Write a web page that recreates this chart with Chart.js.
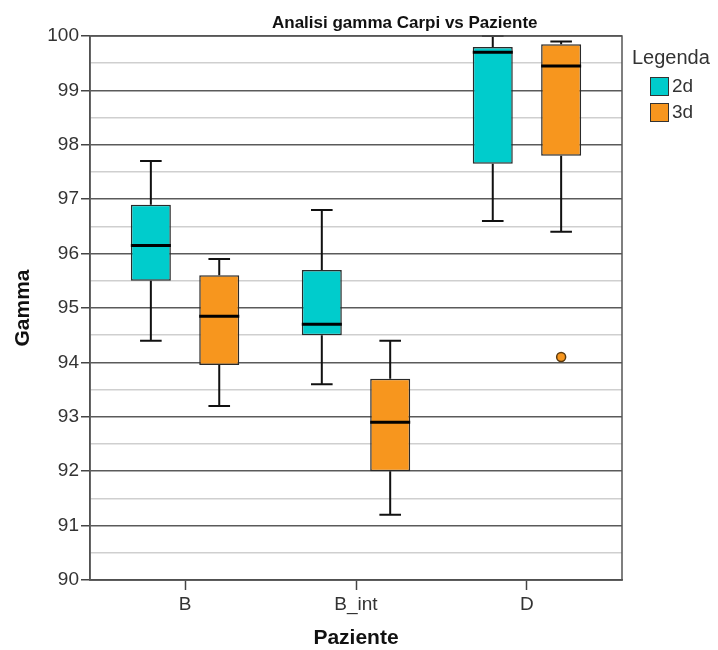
<!DOCTYPE html>
<html lang="it">
  <head>
    <meta charset="UTF-8" />
    <title>Analisi gamma Carpi vs Paziente</title>
    <style>
      body { margin: 0; background: #fff; }
      .container {
        position: relative;
        width: 718px;
        height: 650px;
        font-family: "Liberation Sans", Arial, sans-serif;
        color: #333;
      }
      #title {
        position: absolute;
        left: 272px;
        top: 13px;
        font-size: 17px;
        font-weight: bold;
        color: #111;
        white-space: nowrap;
      }
      #legend {
        position: absolute;
        left: 632px;
        top: 46px;
      }
      #legend .head { font-size: 20px; margin-bottom: 4px; }
      #legend .item {
        display: flex;
        align-items: center;
        margin-left: 18px;
        height: 26px;
        font-size: 19px;
      }
      #legend .box {
        display: inline-block;
        width: 17px;
        height: 17px;
        border: 1px solid #333;
        margin-right: 3px;
      }
    </style>
    <script defer src="https://cdn.jsdelivr.net/npm/chart.js"></script>
    <script>
      // data
      const categories = ["B", "B_int", "D"];
      const seriesNames = ["2d", "3d"];
      const seriesColors = ["rgb(0, 204, 204)", "rgb(247, 150, 30)"];

      const min2d = [94.4, 93.6, 96.6];
      const q1_2d = [95.5, 94.5, 97.65];
      const med2d = [96.15, 94.7, 99.7];
      const q3_2d = [96.9, 95.7, 99.8];
      const max2d = [97.7, 96.8, 100.0];
      const out2d = [[], [], []];

      const min3d = [93.2, 91.2, 96.4];
      const q1_3d = [93.95, 92.0, 97.8];
      const med3d = [94.85, 92.9, 99.45];
      const q3_3d = [95.6, 93.7, 99.85];
      const max3d = [95.9, 94.4, 99.9];
      const out3d = [[], [], [94.1]];

      const yTicks = [90, 91, 92, 93, 94, 95, 96, 97, 98, 99, 100];

      window.addEventListener("DOMContentLoaded", () => {
        const stats = [
          { min: min2d, q1: q1_2d, med: med2d, q3: q3_2d, max: max2d, out: out2d },
          { min: min3d, q1: q1_3d, med: med3d, q3: q3_3d, max: max3d, out: out3d },
        ];

        // html legend
        const legend = document.getElementById("legend");
        seriesNames.forEach((name, i) => {
          const item = document.createElement("div");
          item.className = "item";
          const box = document.createElement("span");
          box.className = "box";
          box.style.background = seriesColors[i];
          item.appendChild(box);
          item.appendChild(document.createTextNode(name));
          legend.appendChild(item);
        });

        const datasets = seriesNames.map((name, s) => ({
          label: name,
          data: categories.map((c, i) => ({ x: i, y: [stats[s].q1[i], stats[s].q3[i]] })),
          backgroundColor: seriesColors[s],
          borderColor: "#2a2a2a",
          borderWidth: 1.5,
          borderSkipped: false,
          categoryPercentage: 0.8,
          barPercentage: 0.585,
        }));

        // whiskers, medians, outliers on top of the boxes
        const boxplotPlugin = {
          id: "boxplotExtras",
          afterDatasetsDraw(chart) {
            const c = chart.ctx;
            const y = chart.scales.y;
            chart.data.datasets.forEach((ds, s) => {
              const meta = chart.getDatasetMeta(s);
              meta.data.forEach((bar, i) => {
                const st = stats[s];
                const x = bar.x;
                const half = bar.width / 2;
                const cap = bar.width * 0.27;
                c.save();
                c.strokeStyle = "#111";
                c.lineWidth = 2;
                c.beginPath();
                c.moveTo(x, y.getPixelForValue(st.max[i]));
                c.lineTo(x, y.getPixelForValue(st.q3[i]));
                c.moveTo(x, y.getPixelForValue(st.q1[i]));
                c.lineTo(x, y.getPixelForValue(st.min[i]));
                c.moveTo(x - cap, y.getPixelForValue(st.max[i]));
                c.lineTo(x + cap, y.getPixelForValue(st.max[i]));
                c.moveTo(x - cap, y.getPixelForValue(st.min[i]));
                c.lineTo(x + cap, y.getPixelForValue(st.min[i]));
                c.stroke();
                c.lineWidth = 3;
                c.strokeStyle = "#000";
                c.beginPath();
                c.moveTo(x - half, y.getPixelForValue(st.med[i]));
                c.lineTo(x + half, y.getPixelForValue(st.med[i]));
                c.stroke();
                st.out[i].forEach((v) => {
                  c.beginPath();
                  c.arc(x, y.getPixelForValue(v), 4.5, 0, Math.PI * 2);
                  c.fillStyle = seriesColors[s];
                  c.fill();
                  c.lineWidth = 1.5;
                  c.strokeStyle = "#5a3a10";
                  c.stroke();
                });
                c.restore();
              });
            });
            // frame top / right
            const a = chart.chartArea;
            c.save();
            c.strokeStyle = "#555";
            c.lineWidth = 1.5;
            c.strokeRect(a.left, a.top, a.right - a.left, a.bottom - a.top);
            c.restore();
          },
        };

        Chart.defaults.font.family = "'Liberation Sans', Arial, sans-serif";
        Chart.defaults.color = "#333";

        new Chart(document.getElementById("chart"), {
          type: "bar",
          data: { datasets },
          options: {
            responsive: false,
            animation: false,
            devicePixelRatio: 1,
            layout: { padding: { top: 36, right: 96, left: 0, bottom: 0 } },
            plugins: {
              legend: { display: false },
              tooltip: { enabled: false },
            },
            scales: {
              x: {
                type: "linear",
                offset: false,
                min: -0.556,
                max: 2.556,
                afterBuildTicks: (scale) => {
                  scale.ticks = categories.map((c, i) => ({ value: i }));
                },
                afterFit: (scale) => { scale.height = 70; },
                ticks: {
                  callback: (v) => categories[v],
                  font: { size: 19 },
                  color: "#333",
                  padding: 3,
                  autoSkip: false,
                  maxRotation: 0,
                },
                grid: {
                  offset: false,
                  drawOnChartArea: false,
                  drawTicks: true,
                  tickLength: 10,
                  tickColor: "#444",
                  tickWidth: 1.5,
                },
                border: { display: true, color: "#444", width: 1.5 },
                title: {
                  display: true,
                  text: "Paziente",
                  font: { size: 21, weight: "bold", lineHeight: 1 },
                  color: "#111",
                  padding: { top: 0, bottom: 1 },
                },
              },
              y: {
                min: 90,
                max: 100,
                afterBuildTicks: (scale) => {
                  const t = [];
                  for (let k = 0; k < yTicks.length; k++) {
                    t.push({ value: yTicks[k] });
                    if (k < yTicks.length - 1) t.push({ value: yTicks[k] + 0.5 });
                  }
                  scale.ticks = t;
                },
                afterFit: (scale) => { scale.width = 90; },
                ticks: {
                  callback: (v) => (Number.isInteger(v) ? String(v) : ""),
                  font: { size: 19 },
                  color: "#333",
                  padding: 2,
                  autoSkip: false,
                },
                grid: {
                  color: (ctx) => (ctx.tick && Number.isInteger(ctx.tick.value) ? "#5a5a5a" : "#cfcfcf"),
                  lineWidth: 1.5,
                  tickLength: 9,
                  tickColor: (ctx) => (ctx.tick && Number.isInteger(ctx.tick.value) ? "#444" : "rgba(0,0,0,0)"),
                  tickWidth: 1.5,
                },
                border: { display: true, color: "#444", width: 1.5 },
                title: {
                  display: true,
                  text: "Gamma",
                  font: { size: 21, weight: "bold", lineHeight: 1 },
                  color: "#111",
                  padding: { top: 13, bottom: 0 },
                },
              },
            },
          },
          plugins: [boxplotPlugin],
        });
      });
    </script>
  </head>
  <body>
    <div class="container">
      <canvas id="chart" width="718" height="650"></canvas>
      <div id="title">Analisi gamma Carpi vs Paziente</div>
      <div id="legend"><div class="head">Legenda</div></div>
    </div>
  </body>
</html>
